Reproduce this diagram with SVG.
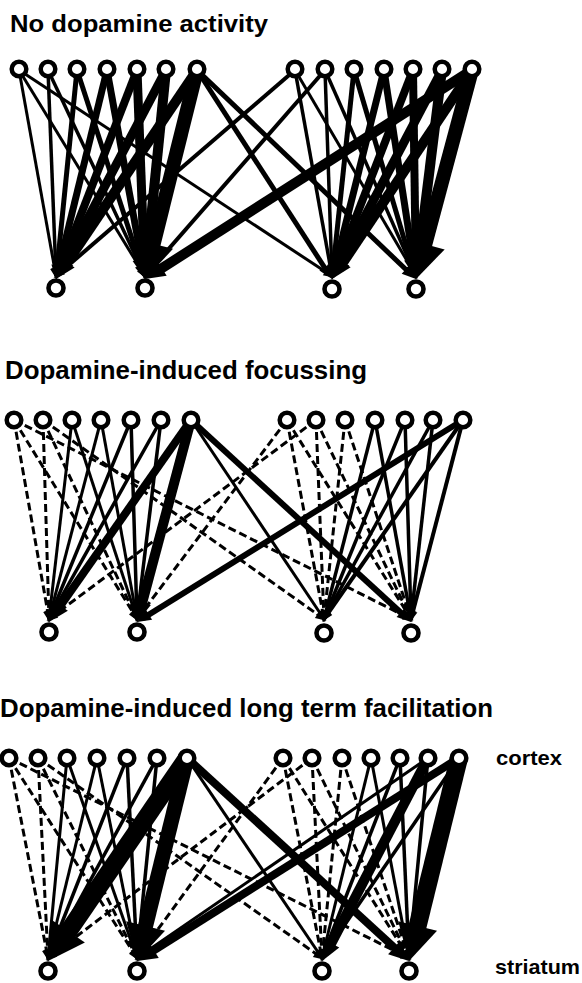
<svg xmlns="http://www.w3.org/2000/svg" width="582" height="983" viewBox="0 0 582 983">
<style>
text{font-family:"Liberation Sans",Arial,Helvetica,sans-serif;font-weight:bold;fill:#000}
.t{font-size:25px}
.t1{font-size:24px}
.lb{font-size:21px}
.e line{stroke:#000;fill:none;stroke-linecap:butt}
.a{stroke-width:3;marker-end:url(#as)}
.b{stroke-width:3.5;marker-end:url(#as)}
.c4{stroke-width:4;marker-end:url(#as)}
.d{stroke-width:3;stroke-dasharray:8 4;marker-end:url(#as)}
.w5{stroke-width:5;marker-end:url(#am)}
.w6{stroke-width:6;marker-end:url(#am)}
.w7{stroke-width:7;marker-end:url(#al)}
.w8{stroke-width:8;marker-end:url(#al)}
.w9{stroke-width:9;marker-end:url(#al)}
.w10{stroke-width:10;marker-end:url(#al)}
.w14{stroke-width:14;marker-end:url(#ax)}
.w15{stroke-width:15;marker-end:url(#ax)}
.w18{stroke-width:18;marker-end:url(#ax)}
.nt{fill:#fff;stroke:#000;stroke-width:4.5}
.nb{fill:#fff;stroke:#000;stroke-width:4.6}
</style>
<defs>
<marker id="as" markerUnits="userSpaceOnUse" markerWidth="11" markerHeight="9" viewBox="0 0 11 9" refX="8" refY="4.5" orient="auto" overflow="visible"><path d="M0,0 L11,4.5 L0,9 z"/></marker>
<marker id="am" markerUnits="userSpaceOnUse" markerWidth="14" markerHeight="12" viewBox="0 0 14 12" refX="7" refY="6" orient="auto" overflow="visible"><path d="M0,0 L14,6 L0,12 z"/></marker>
<marker id="al" markerUnits="userSpaceOnUse" markerWidth="20" markerHeight="18" viewBox="0 0 20 18" refX="8" refY="9" orient="auto" overflow="visible"><path d="M0,0 L20,9 L0,18 z"/></marker>
<marker id="ax" markerUnits="userSpaceOnUse" markerWidth="36" markerHeight="40" viewBox="0 0 36 40" refX="18" refY="20" orient="auto" overflow="visible"><path d="M0,0 L36,20 L0,40 z"/></marker>
</defs>
<rect width="582" height="983" fill="#fff"/>

<g id="titles">
<text class="t1" x="10" y="32" textLength="258" lengthAdjust="spacingAndGlyphs">No dopamine activity</text>
<text class="t" x="5" y="379" textLength="362" lengthAdjust="spacingAndGlyphs">Dopamine-induced focussing</text>
<text class="t" x="0" y="717" textLength="493" lengthAdjust="spacingAndGlyphs">Dopamine-induced long term facilitation</text>
<text class="lb" x="496" y="765" textLength="66" lengthAdjust="spacingAndGlyphs">cortex</text>
<text class="lb" x="495" y="974" textLength="85" lengthAdjust="spacingAndGlyphs">striatum</text>
</g>

<g id="connectors-1" class="e">
<line class="a" x1="19" y1="70" x2="56" y2="276"/>
<line class="b" x1="48" y1="70" x2="56" y2="276"/>
<line class="a" x1="19" y1="70" x2="145" y2="276"/>
<line class="b" x1="48" y1="70" x2="145" y2="276"/>
<line class="b" x1="295" y1="70" x2="332" y2="276"/>
<line class="b" x1="325" y1="70" x2="332" y2="276"/>
<line class="a" x1="295" y1="70" x2="416" y2="276"/>
<line class="b" x1="325" y1="70" x2="416" y2="276"/>
<line class="a" x1="19" y1="70" x2="332" y2="276"/>
<line class="c4" x1="295" y1="70" x2="56" y2="276"/>
<line class="c4" x1="325" y1="70" x2="145" y2="276"/>
<line class="w5" x1="197" y1="70" x2="328.2" y2="273.1"/>
<line class="w5" x1="197" y1="70" x2="410.9" y2="274.2"/>
<line class="w5" x1="77" y1="70" x2="56.7" y2="272"/>
<line class="w7" x1="107" y1="70" x2="58.8" y2="267.3"/>
<line class="w8" x1="137" y1="70" x2="60.3" y2="267.8"/>
<line class="w9" x1="166" y1="70" x2="61.6" y2="268.4"/>
<line class="w10" x1="197" y1="70" x2="62.7" y2="269.1"/>
<line class="w5" x1="77" y1="70" x2="142.9" y2="272.3"/>
<line class="w7" x1="107" y1="70" x2="142.9" y2="267.2"/>
<line class="w9" x1="137" y1="70" x2="144.5" y2="267"/>
<line class="w10" x1="166" y1="70" x2="146.2" y2="267.1"/>
<line class="w14" x1="197" y1="70" x2="149.3" y2="261.5"/>
<line class="w5" x1="354" y1="70" x2="332.7" y2="272"/>
<line class="w7" x1="384" y1="70" x2="334.9" y2="267.4"/>
<line class="w8" x1="413" y1="70" x2="336.3" y2="267.8"/>
<line class="w9" x1="442" y1="70" x2="337.6" y2="268.4"/>
<line class="w10" x1="472" y1="70" x2="338.7" y2="269"/>
<line class="w5" x1="354" y1="70" x2="414" y2="272.3"/>
<line class="w7" x1="384" y1="70" x2="414.2" y2="267.1"/>
<line class="w8" x1="413" y1="70" x2="415.8" y2="267"/>
<line class="w10" x1="442" y1="70" x2="417.5" y2="267.1"/>
<line class="w14" x1="472" y1="70" x2="420.7" y2="261.6"/>
<line class="w10" x1="472" y1="70" x2="155.1" y2="272.5"/>
</g>

<g id="connectors-2" class="e">
<line class="d" x1="14" y1="420" x2="49" y2="619"/>
<line class="d" x1="43" y1="420" x2="49" y2="619"/>
<line class="d" x1="14" y1="420" x2="137" y2="619"/>
<line class="d" x1="43" y1="420" x2="137" y2="619"/>
<line class="d" x1="287" y1="420" x2="324" y2="619"/>
<line class="d" x1="316" y1="420" x2="324" y2="619"/>
<line class="d" x1="345" y1="420" x2="324" y2="619"/>
<line class="d" x1="287" y1="420" x2="411" y2="619"/>
<line class="d" x1="316" y1="420" x2="411" y2="619"/>
<line class="d" x1="345" y1="420" x2="411" y2="619"/>
<line class="d" x1="14" y1="420" x2="411" y2="619"/>
<line class="d" x1="43" y1="420" x2="324" y2="619"/>
<line class="d" x1="287" y1="420" x2="137" y2="619"/>
<line class="d" x1="316" y1="420" x2="49" y2="619"/>
<line class="a" x1="72" y1="420" x2="49" y2="619"/>
<line class="a" x1="101" y1="420" x2="49" y2="619"/>
<line class="b" x1="131" y1="420" x2="49" y2="619"/>
<line class="b" x1="161" y1="420" x2="49" y2="619"/>
<line class="a" x1="72" y1="420" x2="137" y2="619"/>
<line class="a" x1="101" y1="420" x2="137" y2="619"/>
<line class="b" x1="131" y1="420" x2="137" y2="619"/>
<line class="b" x1="161" y1="420" x2="137" y2="619"/>
<line class="b" x1="375" y1="420" x2="324" y2="619"/>
<line class="b" x1="405" y1="420" x2="324" y2="619"/>
<line class="b" x1="433" y1="420" x2="324" y2="619"/>
<line class="c4" x1="463" y1="420" x2="324" y2="619"/>
<line class="b" x1="375" y1="420" x2="411" y2="619"/>
<line class="b" x1="405" y1="420" x2="411" y2="619"/>
<line class="b" x1="433" y1="420" x2="411" y2="619"/>
<line class="c4" x1="463" y1="420" x2="411" y2="619"/>
<line class="a" x1="191" y1="420" x2="324" y2="619"/>
<line class="w8" x1="191" y1="420" x2="55.9" y2="612.2"/>
<line class="w10" x1="191" y1="420" x2="140.1" y2="610.4"/>
<line class="w6" x1="191" y1="420" x2="405.8" y2="617.3"/>
<line class="w6" x1="463" y1="420" x2="143" y2="618.3"/>
</g>

<g id="connectors-3" class="e">
<line class="d" x1="9" y1="758" x2="48" y2="958"/>
<line class="d" x1="38" y1="758" x2="48" y2="958"/>
<line class="d" x1="9" y1="758" x2="137" y2="958"/>
<line class="d" x1="38" y1="758" x2="137" y2="958"/>
<line class="d" x1="283" y1="758" x2="322" y2="958"/>
<line class="d" x1="312" y1="758" x2="322" y2="958"/>
<line class="d" x1="342" y1="758" x2="322" y2="958"/>
<line class="d" x1="283" y1="758" x2="409" y2="958"/>
<line class="d" x1="312" y1="758" x2="409" y2="958"/>
<line class="d" x1="342" y1="758" x2="409" y2="958"/>
<line class="d" x1="9" y1="758" x2="409" y2="958"/>
<line class="d" x1="38" y1="758" x2="322" y2="958"/>
<line class="d" x1="283" y1="758" x2="137" y2="958"/>
<line class="d" x1="312" y1="758" x2="48" y2="958"/>
<line class="a" x1="67" y1="758" x2="48" y2="958"/>
<line class="a" x1="97" y1="758" x2="48" y2="958"/>
<line class="b" x1="127" y1="758" x2="48" y2="958"/>
<line class="b" x1="157" y1="758" x2="48" y2="958"/>
<line class="a" x1="67" y1="758" x2="137" y2="958"/>
<line class="a" x1="97" y1="758" x2="137" y2="958"/>
<line class="b" x1="127" y1="758" x2="137" y2="958"/>
<line class="b" x1="157" y1="758" x2="137" y2="958"/>
<line class="a" x1="371" y1="758" x2="322" y2="958"/>
<line class="b" x1="400" y1="758" x2="322" y2="958"/>
<line class="b" x1="459" y1="758" x2="322" y2="958"/>
<line class="a" x1="371" y1="758" x2="409" y2="958"/>
<line class="b" x1="400" y1="758" x2="409" y2="958"/>
<line class="b" x1="428" y1="758" x2="409" y2="958"/>
<line class="a" x1="187" y1="758" x2="322" y2="958"/>
<line class="a" x1="428" y1="758" x2="137" y2="958"/>
<line class="w8" x1="187" y1="758" x2="400.1" y2="952.9"/>
<line class="w8" x1="459" y1="758" x2="147.2" y2="954.6"/>
<line class="w10" x1="428" y1="758" x2="327.6" y2="950.4"/>
<line class="w15" x1="187" y1="758" x2="141.3" y2="943.5"/>
<line class="w18" x1="187" y1="758" x2="58.2" y2="946.1"/>
<line class="w18" x1="459" y1="758" x2="413.3" y2="943.5"/>
</g>

<g id="nodes-1">
<g id="p1-c1"><circle class="nt" cx="19" cy="69" r="7.3"/></g>
<g id="p1-c2"><circle class="nt" cx="48" cy="69" r="7.3"/></g>
<g id="p1-c3"><circle class="nt" cx="77" cy="69" r="7.3"/></g>
<g id="p1-c4"><circle class="nt" cx="107" cy="69" r="7.3"/></g>
<g id="p1-c5"><circle class="nt" cx="137" cy="69" r="7.3"/></g>
<g id="p1-c6"><circle class="nt" cx="166" cy="69" r="7.3"/></g>
<g id="p1-c7"><circle class="nt" cx="197" cy="69" r="7.3"/></g>
<g id="p1-c8"><circle class="nt" cx="295" cy="69" r="7.3"/></g>
<g id="p1-c9"><circle class="nt" cx="325" cy="69" r="7.3"/></g>
<g id="p1-c10"><circle class="nt" cx="354" cy="69" r="7.3"/></g>
<g id="p1-c11"><circle class="nt" cx="384" cy="69" r="7.3"/></g>
<g id="p1-c12"><circle class="nt" cx="413" cy="69" r="7.3"/></g>
<g id="p1-c13"><circle class="nt" cx="442" cy="69" r="7.3"/></g>
<g id="p1-c14"><circle class="nt" cx="472" cy="69" r="7.3"/></g>
<g id="p1-s1"><circle class="nb" cx="56" cy="288" r="7.5"/></g>
<g id="p1-s2"><circle class="nb" cx="145" cy="288" r="7.5"/></g>
<g id="p1-s3"><circle class="nb" cx="332" cy="289" r="7.5"/></g>
<g id="p1-s4"><circle class="nb" cx="416" cy="289" r="7.5"/></g>
</g>

<g id="nodes-2">
<g id="p2-c1"><circle class="nt" cx="14" cy="420" r="7.3"/></g>
<g id="p2-c2"><circle class="nt" cx="43" cy="420" r="7.3"/></g>
<g id="p2-c3"><circle class="nt" cx="72" cy="420" r="7.3"/></g>
<g id="p2-c4"><circle class="nt" cx="101" cy="420" r="7.3"/></g>
<g id="p2-c5"><circle class="nt" cx="131" cy="420" r="7.3"/></g>
<g id="p2-c6"><circle class="nt" cx="161" cy="420" r="7.3"/></g>
<g id="p2-c7"><circle class="nt" cx="191" cy="420" r="7.3"/></g>
<g id="p2-c8"><circle class="nt" cx="287" cy="420" r="7.3"/></g>
<g id="p2-c9"><circle class="nt" cx="316" cy="420" r="7.3"/></g>
<g id="p2-c10"><circle class="nt" cx="345" cy="420" r="7.3"/></g>
<g id="p2-c11"><circle class="nt" cx="375" cy="420" r="7.3"/></g>
<g id="p2-c12"><circle class="nt" cx="405" cy="420" r="7.3"/></g>
<g id="p2-c13"><circle class="nt" cx="433" cy="420" r="7.3"/></g>
<g id="p2-c14"><circle class="nt" cx="463" cy="420" r="7.3"/></g>
<g id="p2-s1"><circle class="nb" cx="49" cy="632" r="7.5"/></g>
<g id="p2-s2"><circle class="nb" cx="137" cy="632" r="7.5"/></g>
<g id="p2-s3"><circle class="nb" cx="324" cy="633" r="7.5"/></g>
<g id="p2-s4"><circle class="nb" cx="411" cy="633" r="7.5"/></g>
</g>

<g id="nodes-3">
<g id="p3-c1"><circle class="nt" cx="9" cy="758" r="7.3"/></g>
<g id="p3-c2"><circle class="nt" cx="38" cy="758" r="7.3"/></g>
<g id="p3-c3"><circle class="nt" cx="67" cy="758" r="7.3"/></g>
<g id="p3-c4"><circle class="nt" cx="97" cy="758" r="7.3"/></g>
<g id="p3-c5"><circle class="nt" cx="127" cy="758" r="7.3"/></g>
<g id="p3-c6"><circle class="nt" cx="157" cy="758" r="7.3"/></g>
<g id="p3-c7"><circle class="nt" cx="187" cy="758" r="7.3"/></g>
<g id="p3-c8"><circle class="nt" cx="283" cy="758" r="7.3"/></g>
<g id="p3-c9"><circle class="nt" cx="312" cy="758" r="7.3"/></g>
<g id="p3-c10"><circle class="nt" cx="342" cy="758" r="7.3"/></g>
<g id="p3-c11"><circle class="nt" cx="371" cy="758" r="7.3"/></g>
<g id="p3-c12"><circle class="nt" cx="400" cy="758" r="7.3"/></g>
<g id="p3-c13"><circle class="nt" cx="428" cy="758" r="7.3"/></g>
<g id="p3-c14"><circle class="nt" cx="459" cy="758" r="7.3"/></g>
<g id="p3-s1"><circle class="nb" cx="48" cy="971" r="7.5"/></g>
<g id="p3-s2"><circle class="nb" cx="137" cy="971" r="7.5"/></g>
<g id="p3-s3"><circle class="nb" cx="322" cy="971" r="7.5"/></g>
<g id="p3-s4"><circle class="nb" cx="409" cy="971" r="7.5"/></g>
</g>
</svg>
